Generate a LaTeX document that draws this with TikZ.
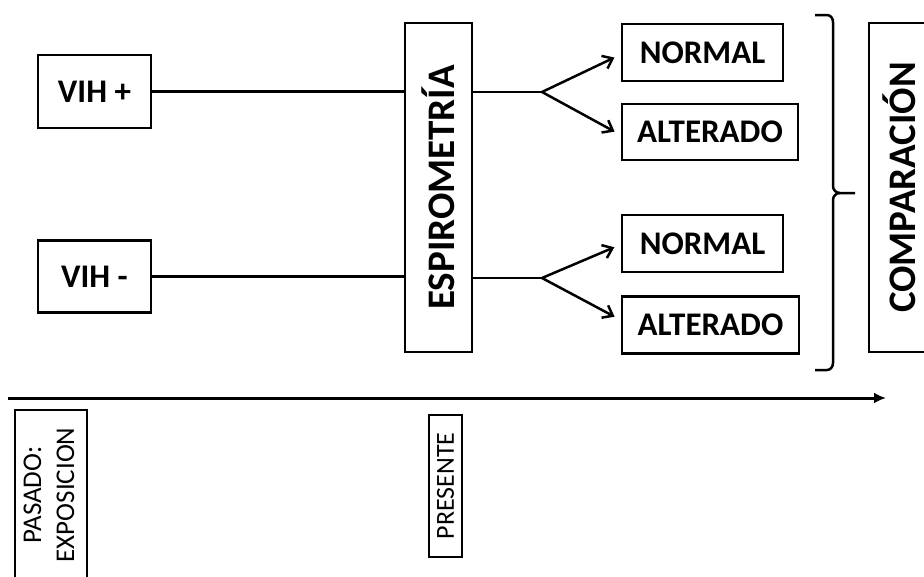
\documentclass[tikz,border=0pt]{standalone}
\usepackage{fontspec}
\usepackage{graphicx}
\setmainfont{Carlito}
\usetikzlibrary{arrows.meta,calc}
\tikzset{
  box/.style={draw, line width=2.5pt, inner sep=0pt, font=\fontsize{33}{38}\selectfont\bfseries},
  bigbox/.style={draw, line width=2.5pt, inner sep=0pt, font=\fontsize{39}{44}\selectfont\bfseries},
  smallbox/.style={draw, line width=1.8pt, inner sep=0pt, font=\fontsize{26}{32}\selectfont},
  link/.style={line width=2.5pt},
  branch/.style={line width=2.5pt, -{Straight Barb[length=9pt,width=14pt,line width=2.5pt]}, shorten >=7pt},
  axis/.style={line width=3pt, -{Latex[length=12pt,width=11pt]}}
}
\begin{document}
\begin{tikzpicture}[x=1pt,y=-1pt]
\clip (0,0) rectangle (924,576);
\fill[white] (0,0) rectangle (924,576);
% left boxes
\node[box, minimum width=113pt, minimum height=73pt] (vihp) at (94.5,91.5) {VIH +};
\node[box, minimum width=113pt, minimum height=72pt] (vihm) at (94.5,276.5) {VIH -};
% espirometria
\node[bigbox, minimum width=67pt, minimum height=329pt] (esp) at (438.5,187.5) {\rotatebox{90}{ESPIROMETRÍA}};
% results
\node[box, minimum width=161pt, minimum height=57pt] (n1) at (702.5,52.5) {NORMAL};
\node[box, minimum width=176pt, minimum height=56pt] (a1) at (710,132) {ALTERADO};
\node[box, minimum width=161pt, minimum height=57pt] (n2) at (702.5,243.5) {NORMAL};
\node[box, minimum width=177pt, minimum height=57pt] (a2) at (710.5,325) {ALTERADO};
% comparacion
\node[bigbox, minimum width=68pt, minimum height=329pt] (comp) at (903,187.5) {};
\node[font=\fontsize{39}{44}\selectfont\bfseries, inner sep=0pt] (comptxt) at (899,187.5) {\rotatebox{90}{COMPARACIÓN}};
% branch points
\coordinate (b1) at (542,92);
\coordinate (b2) at (542,278);
% connectors
\draw[link] (vihp.east) -- (vihp.east -| esp.west);
\draw[link] (vihm.east) -- (vihm.east -| esp.west);
\draw[link] (b1 -| esp.east) -- (b1);
\draw[link] (b2 -| esp.east) -- (b2);
\draw[branch] (b1) -- ($(n1.west)+(0,2)$);
\draw[branch] (b1) -- ($(a1.west)+(0,3)$);
\draw[branch] (b2) -- ($(n2.west)+(0,1)$);
\draw[branch] (b2) -- ($(a2.west)+(0,-5)$);
% brace
\coordinate (brt) at (815,15);
\coordinate (brb) at (815,370);
\coordinate (brm) at (855,193);
\draw[line width=2.5pt] (brt) -- (827,15) to[out=0,in=90] (833,22) -- (833,186) to[out=-90,in=180] (840,193) -- (brm);
\draw[line width=2.5pt] (brb) -- (827,370) to[out=0,in=-90] (833,363) -- (833,200) to[out=90,in=180] (840,193);
% time axis
\coordinate (ax0) at (8,398);
\coordinate (ax1) at (886,398);
\draw[axis] (ax0) -- (ax1);
\node[smallbox, minimum width=33pt, minimum height=142pt] (pres) at (445.5,486) {\rotatebox{90}{PRESENTE}};
\node[smallbox, minimum width=72pt, minimum height=170pt] (pas) at (51,495) {\rotatebox{90}{\fontsize{27}{33}\selectfont\begin{tabular}{@{}c@{}}PASADO:\\EXPOSICION\end{tabular}}};
\end{tikzpicture}
\end{document}
